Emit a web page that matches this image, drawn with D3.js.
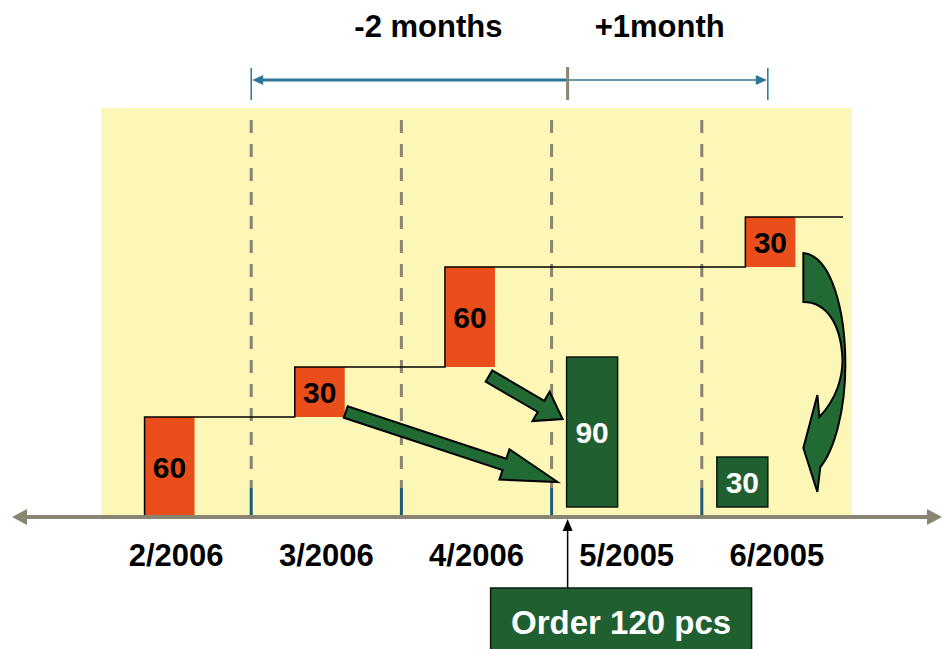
<!DOCTYPE html>
<html>
<head>
<meta charset="utf-8">
<script src="https://cdn.jsdelivr.net/npm/d3@7"></script>
<style>
  html, body { margin: 0; padding: 0; background: #ffffff; }
  svg { display: block; font-family: "Liberation Sans", Arial, Helvetica, sans-serif; }
</style>
</head>
<body>
<svg id="chart" width="945" height="649"></svg>
<script>
// Months on the time line
const months = ["2/2006", "3/2006", "4/2006", "5/2005", "6/2005"];
// Demand added each month (stacked as a staircase); null = none
const demand = [60, 30, 60, null, 30];
// Quantity delivered in the order months; null = none
const delivered = [null, null, null, 90, 30];
// Lead-time bracket labels
const leadLabels = ["-2 months", "+1month"];
// Order callout
const orderQty = 120;
const orderText = "Order " + orderQty + " pcs";

const W = 945, H = 649;
const svg = d3.select("#chart");

const ORANGE = "#ea4f1b";
const GREEN = "#1f5f30";
const ARROW_GREEN = "#226a34";
const YELLOW = "#fcf7b6";
const GREY = "#8a8472";
const TEAL = "#1d5b78";
const BLUE = "#2b7698";

const x = d3.scaleBand().domain(months).range([101, 852]).paddingInner(0).paddingOuter(0);
const step = x.step();
const y = d3.scaleLinear().domain([0, 180]).range([517, 217]);

// cumulative levels of the staircase
let run = 0;
const levels = demand.map(d => (run += (d || 0)));

// shaded plot area
svg.append("rect")
  .attr("x", x.range()[0]).attr("y", 108)
  .attr("width", x.range()[1] - x.range()[0]).attr("height", y(0) - 108)
  .attr("fill", YELLOW);

// month separators: grey dashes with a solid teal foot
const sepX = months.slice(1).map(m => x(m));
const footTop = y(0) - 29;
svg.append("g").selectAll("line").data(sepX).join("line")
  .attr("x1", d => d).attr("x2", d => d)
  .attr("y1", 120).attr("y2", footTop)
  .attr("stroke", GREY).attr("stroke-width", 3)
  .attr("stroke-dasharray", "13 11");
svg.append("g").selectAll("line").data(sepX).join("line")
  .attr("x1", d => d).attr("x2", d => d)
  .attr("y1", footTop).attr("y2", y(0))
  .attr("stroke", TEAL).attr("stroke-width", 3);

// demand bars (orange), each sitting on the previous level
const barW = 50;
const barOff = step * 0.29;
const demandRows = months.map((m, i) => ({ m, v: demand[i], top: levels[i], base: levels[i] - (demand[i] || 0) }))
  .filter(d => d.v != null);
svg.append("g").selectAll("rect").data(demandRows).join("rect")
  .attr("x", d => x(d.m) + barOff)
  .attr("y", d => y(d.top))
  .attr("width", barW)
  .attr("height", d => y(d.base) - y(d.top))
  .attr("fill", ORANGE);
svg.append("g").selectAll("text").data(demandRows).join("text")
  .attr("x", d => x(d.m) + barOff + barW / 2)
  .attr("y", d => (y(d.top) + y(d.base)) / 2)
  .attr("dy", "0.36em")
  .attr("text-anchor", "middle")
  .attr("font-size", 30).attr("font-weight", "bold")
  .attr("fill", "#000")
  .text(d => d.v);

// staircase outline of cumulative demand
const stairPts = [[x(demandRows[0].m) + barOff, y(0)]];
demandRows.forEach((d, i) => {
  const xl = x(d.m) + barOff;
  stairPts.push([xl, y(d.top)]);
  const next = demandRows[i + 1];
  const xr = next ? x(next.m) + barOff : x.range()[1] - 9;
  stairPts.push([xr, y(d.top)]);
});
svg.append("path")
  .attr("d", d3.line()(stairPts))
  .attr("fill", "none").attr("stroke", "#000").attr("stroke-width", 1.5);

// delivered bars (green)
const gOff = step * 0.1;
const gW = 51;
const gBase = y(0) - 10;
const delRows = months.map((m, i) => ({ m, v: delivered[i] })).filter(d => d.v != null);
svg.append("g").selectAll("rect").data(delRows).join("rect")
  .attr("x", d => x(d.m) + gOff)
  .attr("y", d => gBase - (y(0) - y(d.v)))
  .attr("width", gW)
  .attr("height", d => y(0) - y(d.v))
  .attr("fill", GREEN).attr("stroke", "#0b1a0e").attr("stroke-width", 1.5);
svg.append("g").selectAll("text").data(delRows).join("text")
  .attr("x", d => x(d.m) + gOff + gW / 2)
  .attr("y", d => gBase - (y(0) - y(d.v)) / 2)
  .attr("dy", "0.36em")
  .attr("text-anchor", "middle")
  .attr("font-size", 30).attr("font-weight", "bold")
  .attr("fill", "#fff")
  .text(d => d.v);

// straight block arrow
function blockArrow(T, P, sw, hw, hl) {
  const dx = P[0] - T[0], dy = P[1] - T[1];
  const L = Math.hypot(dx, dy);
  const u = [dx / L, dy / L], n = [-u[1], u[0]];
  const B = [P[0] - u[0] * hl, P[1] - u[1] * hl];
  const pt = (p, k) => [p[0] + n[0] * k, p[1] + n[1] * k];
  return d3.line()([pt(T, sw), pt(B, sw), pt(B, hw), P, pt(B, -hw), pt(B, -sw), pt(T, -sw)]) + "Z";
}
const xr3 = x("3/2006") + barOff + barW;
const xr4 = x("4/2006") + barOff + barW;
const g90 = x("5/2005") + gOff;
svg.append("path")
  .attr("d", blockArrow([xr3 + 1, y(levels[0]) - 5], [x("5/2005") + 6, y(0) - 35], 6, 16, 56))
  .attr("fill", ARROW_GREEN).attr("stroke", "#000").attr("stroke-width", 2).attr("stroke-linejoin", "miter");
svg.append("path")
  .attr("d", blockArrow([xr4 - 6, y(levels[1]) + 9], [g90 - 4, y(levels[1]) + 52], 6.5, 17, 25))
  .attr("fill", ARROW_GREEN).attr("stroke", "#000").attr("stroke-width", 2).attr("stroke-linejoin", "miter");

// curved arrow: last month's demand moved back to its delivery
const ax = x("6/2005") + barOff + barW, ay = y(0);
const curve = d3.path();
const P = (dx, dy) => [ax + dx, ay + dy];
curve.moveTo(...P(8, -264));
curve.bezierCurveTo(...P(36, -261), ...P(50, -207), ...P(50, -152));
curve.bezierCurveTo(...P(50, -107), ...P(39, -67), ...P(25, -50));
curve.lineTo(...P(22, -25));
curve.lineTo(...P(8, -69));
curve.lineTo(...P(22, -122));
curve.lineTo(...P(24, -100));
curve.bezierCurveTo(...P(41, -118), ...P(48, -140), ...P(47, -160));
curve.bezierCurveTo(...P(45, -195), ...P(30, -215), ...P(8, -215));
curve.closePath();
svg.append("path").attr("d", curve.toString())
  .attr("fill", ARROW_GREEN).attr("stroke", "#000").attr("stroke-width", 2);

// time axis with arrowheads on both ends
const axisY = y(0);
svg.append("line")
  .attr("x1", 22).attr("x2", 932).attr("y1", axisY).attr("y2", axisY)
  .attr("stroke", GREY).attr("stroke-width", 4);
svg.append("path")
  .attr("d", d3.line()([[12, axisY], [27, axisY - 8], [27, axisY + 8]]) + "Z")
  .attr("fill", GREY);
svg.append("path")
  .attr("d", d3.line()([[942, axisY], [927, axisY - 8], [927, axisY + 8]]) + "Z")
  .attr("fill", GREY);

// month labels
const axis = d3.axisBottom(x).tickSize(0).tickPadding(27);
const ax_g = svg.append("g").attr("transform", `translate(0,${axisY})`).call(axis);
ax_g.select(".domain").remove();
ax_g.selectAll("text")
  .attr("font-family", "'Liberation Sans', Arial, sans-serif")
  .attr("font-size", 31).attr("font-weight", "bold").attr("fill", "#000");

// order callout
const orderX = x("5/2005") + gOff + 1;
svg.append("line")
  .attr("x1", orderX).attr("x2", orderX).attr("y1", 588).attr("y2", axisY + 12)
  .attr("stroke", "#000").attr("stroke-width", 1.5);
svg.append("path")
  .attr("d", d3.line()([[orderX, axisY + 2], [orderX - 5, axisY + 14], [orderX + 5, axisY + 14]]) + "Z")
  .attr("fill", "#000");
const boxX = x("5/2005") - 61, boxW = 261;
svg.append("rect")
  .attr("x", boxX).attr("y", 588).attr("width", boxW).attr("height", 70)
  .attr("fill", GREEN).attr("stroke", "#0b1a0e").attr("stroke-width", 1.5);
svg.append("text")
  .attr("x", boxX + boxW / 2).attr("y", 634)
  .attr("text-anchor", "middle")
  .attr("font-size", 33).attr("font-weight", "bold").attr("fill", "#fff")
  .text(orderText);

// lead-time bracket
const bL = x("3/2006"), bM = orderX, bR = x("6/2005") + gOff + gW;
const bY = 80;
svg.append("line").attr("x1", bL + 8).attr("x2", bM).attr("y1", bY).attr("y2", bY)
  .attr("stroke", BLUE).attr("stroke-width", 3);
svg.append("line").attr("x1", bM).attr("x2", bR - 8).attr("y1", bY).attr("y2", bY)
  .attr("stroke", BLUE).attr("stroke-width", 1.5);
svg.append("path").attr("d", d3.line()([[bL + 1, bY], [bL + 12, bY - 5], [bL + 12, bY + 5]]) + "Z").attr("fill", BLUE);
svg.append("path").attr("d", d3.line()([[bR - 1, bY], [bR - 12, bY - 5], [bR - 12, bY + 5]]) + "Z").attr("fill", BLUE);
[bL, bR].forEach(v => svg.append("line").attr("x1", v).attr("x2", v).attr("y1", 68).attr("y2", 100)
  .attr("stroke", BLUE).attr("stroke-width", 1.5));
svg.append("line").attr("x1", bM).attr("x2", bM).attr("y1", 67).attr("y2", 100)
  .attr("stroke", GREY).attr("stroke-width", 3);

svg.append("text").attr("x", (bL + bM) / 2 + 19).attr("y", 37)
  .attr("text-anchor", "middle").attr("font-size", 31).attr("font-weight", "bold").attr("fill", "#000")
  .text(leadLabels[0]);
svg.append("text").attr("x", (bM + bR) / 2 - 8).attr("y", 37)
  .attr("text-anchor", "middle").attr("font-size", 31).attr("font-weight", "bold").attr("fill", "#000")
  .text(leadLabels[1]);
</script>
</body>
</html>
